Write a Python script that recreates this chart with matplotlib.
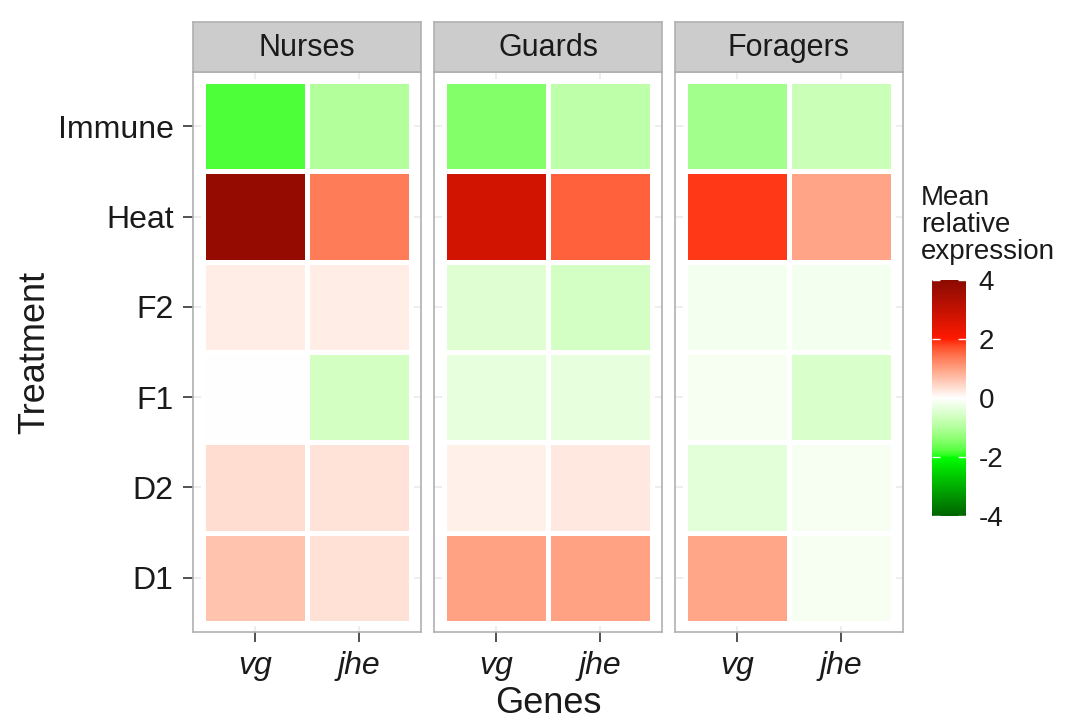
import numpy as np
import matplotlib
matplotlib.use("Agg")
import matplotlib.pyplot as plt
from matplotlib.colors import ListedColormap, Normalize
from matplotlib.cm import ScalarMappable

plt.rcParams['font.family'] = ['Liberation Sans', 'DejaVu Sans']
plt.rcParams['axes.unicode_minus'] = False

# data (treatments listed top to bottom)
treatments = ["Immune", "Heat", "F2", "F1", "D2", "D1"]
genes = ["vg", "jhe"]
castes = ["Nurses", "Guards", "Foragers"]
nurses_vg = [-1.80, 3.80, 0.19, 0.01, 0.36, 0.64]
nurses_jhe = [-1.00, 1.35, 0.19, -0.60, 0.30, 0.32]
guards_vg = [-1.45, 2.75, -0.44, -0.34, 0.17, 0.98]
guards_jhe = [-0.85, 1.58, -0.58, -0.34, 0.24, 0.98]
foragers_vg = [-1.15, 1.86, -0.17, -0.12, -0.38, 0.95]
foragers_jhe = [-0.72, 0.96, -0.17, -0.52, -0.11, -0.12]
panel_values = [(nurses_vg, nurses_jhe), (guards_vg, guards_jhe), (foragers_vg, foragers_jhe)]

# colour ramp interpolated in CIE Lab like ggplot's gradientn
node_vals = [-4, -2, 0, 2, 4]
node_cols = ["#006400", "#00FF00", "#FFFFFF", "#FF1A00", "#8B0A00"]

M = np.array([[0.4124, 0.3576, 0.1805],
              [0.2126, 0.7152, 0.0722],
              [0.0193, 0.1192, 0.9505]])
white = np.array([0.95047, 1.0, 1.08883])

def hex2rgb(h):
    return np.array([int(h[i:i + 2], 16) / 255 for i in (1, 3, 5)])

def to_lab(rgb):
    lin = np.where(rgb <= 0.04045, rgb / 12.92, ((rgb + 0.055) / 1.055) ** 2.4)
    xyz = M @ lin / white
    f = np.where(xyz > 0.008856, np.cbrt(xyz), 7.787 * xyz + 16 / 116)
    return np.array([116 * f[1] - 16, 500 * (f[0] - f[1]), 200 * (f[1] - f[2])])

def from_lab(lab):
    fy = (lab[0] + 16) / 116
    f = np.array([fy + lab[1] / 500, fy, fy - lab[2] / 200])
    xyz = np.where(f ** 3 > 0.008856, f ** 3, (f - 16 / 116) / 7.787) * white
    lin = np.linalg.solve(M, xyz)
    lin = np.clip(lin, 0, 1)
    rgb = np.where(lin <= 0.0031308, 12.92 * lin, 1.055 * lin ** (1 / 2.4) - 0.055)
    return np.clip(rgb, 0, 1)

labs = np.array([to_lab(hex2rgb(c)) for c in node_cols])
samples = np.linspace(-4, 4, 512)
lab_s = np.stack([np.interp(samples, node_vals, labs[:, k]) for k in range(3)], axis=1)
cmap = ListedColormap([from_lab(l) for l in lab_s])
norm = Normalize(-4, 4)

W, H = 1072, 722
fig = plt.figure(figsize=(W / 100, H / 100), dpi=100)

def box(x0, y0, x1, y1):
    return [x0 / W, 1 - y1 / H, (x1 - x0) / W, (y1 - y0) / H]

lefts = [193, 434, 675]
pw = 228
ptop, pbot, stop = 72, 632, 22
txt = "#1A1A1A"

for i, (caste, (vg, jhe)) in enumerate(zip(castes, panel_values)):
    x0 = lefts[i]
    ax = fig.add_axes(box(x0, ptop, x0 + pw, pbot))
    C = np.array([vg, jhe]).T[::-1]
    ax.set_axisbelow(True)
    ax.grid(True, color="#EBEBEB", linewidth=1.2)
    ax.pcolormesh(np.arange(3) - 0.5, np.arange(7) - 0.5, C, cmap=cmap, norm=norm,
                  edgecolors="white", linewidth=2.2)
    ax.set_xlim(-0.6, 1.6)
    ax.set_ylim(-0.6, 5.6)
    ax.set_xticks(range(2))
    ax.set_xticklabels(genes, fontsize=23, style="italic", color=txt)
    ax.set_yticks(range(6))
    ax.tick_params(length=7, width=1.2, color="#333333", pad=7)
    if i == 0:
        ax.set_yticklabels(treatments[::-1], fontsize=23, color=txt)
        ax.set_ylabel("Treatment", fontsize=26, labelpad=4, color=txt)
    else:
        ax.set_yticklabels([])
        ax.tick_params(axis="y", length=0)
    for s in ax.spines.values():
        s.set_color("#B0B0B0")
        s.set_linewidth(1.2)
    if i == 1:
        ax.set_xlabel("Genes", fontsize=26, labelpad=3, color=txt)

    sax = fig.add_axes(box(x0, stop, x0 + pw, ptop))
    sax.set_facecolor("#CCCCCC")
    sax.set_xticks([])
    sax.set_yticks([])
    for s in sax.spines.values():
        s.set_color("#B0B0B0")
        s.set_linewidth(1.2)
    sax.text(0.5, 0.48, caste, fontsize=22, color=txt, ha="center", va="center",
             transform=sax.transAxes)

# legend
cax = fig.add_axes(box(932, 280, 966, 516))
cb = fig.colorbar(ScalarMappable(norm=norm, cmap=cmap), cax=cax, ticks=[-4, -2, 0, 2, 4])
cb.outline.set_visible(False)
cax.yaxis.set_ticks_position("both")
cax.tick_params(direction="in", length=6, width=1, colors="white", labelcolor=txt,
                labelsize=20, pad=9)
cax.yaxis.set_tick_params(labelleft=False, labelright=True)
fig.text(921 / W, 1 - 185 / H, "Mean\nrelative\nexpression", fontsize=20, va="top",
         ha="left", linespacing=1.05, color=txt)

fig.savefig("out.png", dpi=100)
